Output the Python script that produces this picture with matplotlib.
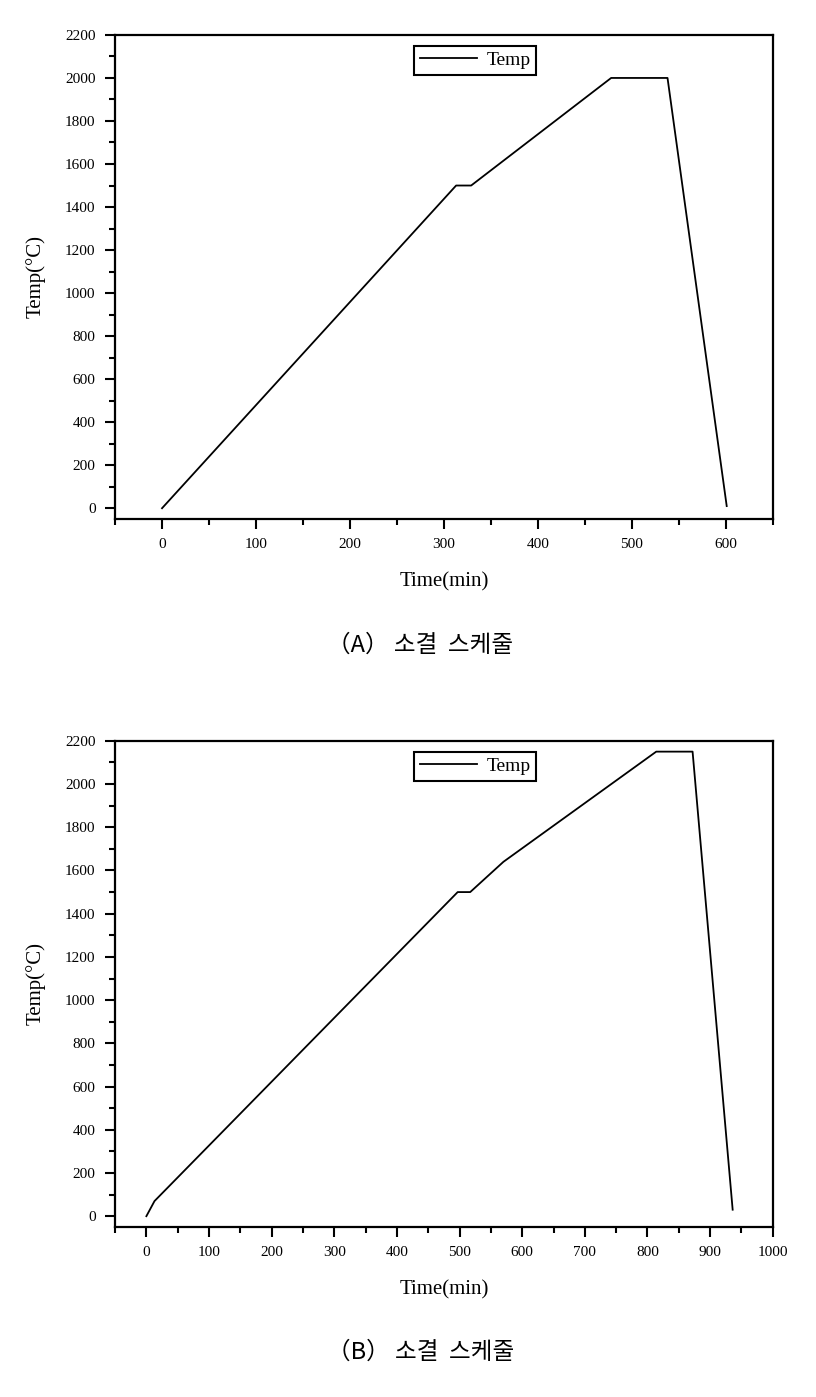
import matplotlib
matplotlib.use('Agg')
import matplotlib.pyplot as plt
from matplotlib.ticker import MultipleLocator

# sintering schedule (A)
time_a = [0, 313, 329, 478, 538, 601]
temp_a = [0, 1500, 1500, 2000, 2000, 10]

# sintering schedule (B)
time_b = [0, 13, 497, 517, 570, 814, 872, 936]
temp_b = [0, 70, 1500, 1500, 1640, 2150, 2150, 30]

captions = ['（A） 소결  스케줄', '（B） 소결  스케줄']
serif = ['Liberation Serif', 'DejaVu Serif']
cjk = ['Noto Sans CJK KR', 'DejaVu Sans']

fig = plt.figure(figsize=(8.16, 13.97), dpi=100)


def draw(ax, x, y, xlim, xstep):
    ax.plot(x, y, color='black', lw=1.3, label='Temp')
    ax.set_xlim(*xlim)
    ax.set_ylim(-50, 2200)
    ax.xaxis.set_major_locator(MultipleLocator(xstep))
    ax.xaxis.set_minor_locator(MultipleLocator(xstep / 2))
    ax.yaxis.set_major_locator(MultipleLocator(200))
    ax.yaxis.set_minor_locator(MultipleLocator(100))
    ax.tick_params(which='major', direction='out', length=7, width=1.5,
                   labelsize=11, top=False, right=False, pad=7)
    ax.tick_params(which='minor', direction='out', length=4, width=1.5,
                   top=False, right=False)
    for s in ax.spines.values():
        s.set_linewidth(1.6)
    for lab in ax.get_xticklabels() + ax.get_yticklabels():
        lab.set_family(serif)
    ax.set_xlabel('Time(min)', family=serif, fontsize=15, labelpad=15)
    ax.set_ylabel('Temp(°C)', family=serif, fontsize=15, labelpad=14)
    leg = ax.legend(loc='upper left', bbox_to_anchor=(0.455, 0.978),
                    prop={'family': serif, 'size': 14}, fancybox=False,
                    framealpha=1, edgecolor='black', handlelength=2.9,
                    borderpad=0.3, handletextpad=0.5, borderaxespad=0)
    leg.get_frame().set_linewidth(1.5)


ax1 = fig.add_axes([0.141, 0.6285, 0.806, 0.3465])
draw(ax1, time_a, temp_a, (-50, 650), 100)
ax2 = fig.add_axes([0.141, 0.1217, 0.806, 0.348])
draw(ax2, time_b, temp_b, (-50, 1000), 100)

fig.text(0.515, 1 - 645 / 1397, captions[0], family=cjk, fontsize=17,
         ha='center', va='center')
fig.text(0.515, 1 - 1352 / 1397, captions[1], family=cjk, fontsize=17,
         ha='center', va='center')

fig.savefig('out.png', dpi=100)
